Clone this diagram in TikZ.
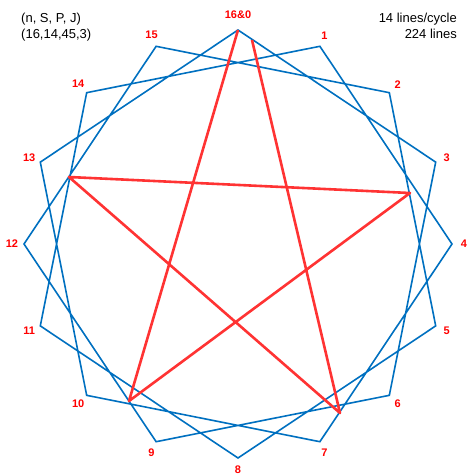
\documentclass[tikz,border=0pt]{standalone}
\usepackage{xcolor}
\usepackage{fontspec}
\setmainfont{Liberation Sans}
\usepackage{tikz}

\definecolor{starblue}{RGB}{0,112,192}
\definecolor{pentred}{RGB}{255,51,51}

\tikzset{
  ptlabel/.style={text=red, font=\bfseries\fontsize{11}{13}\selectfont, inner sep=0pt},
  infotext/.style={font=\fontsize{13}{16}\selectfont, inner sep=0pt},
  starline/.style={draw=starblue, line width=1.6pt},
  pentline/.style={draw=pentred, line width=2.6pt, line join=round}
}

\begin{document}
\begin{tikzpicture}[x=1pt,y=-1pt]
\useasboundingbox (0,0) rectangle (474,475);
% points of the 16-gon and their numbers
\foreach \i in {0,...,15} {
  \coordinate (p\i) at ({238+214*sin(22.5*\i)},{244-214*cos(22.5*\i)});
}
\node[ptlabel] (l0) at (238,15) {16\&0};
\foreach \i in {1,...,15} {
  \node[ptlabel] (l\i) at ({238+226*sin(22.5*\i)},{244-226*cos(22.5*\i)}) {\i};
}
% star, step 3
\draw[starline] (p0) -- (p3) -- (p6) -- (p9) -- (p12) -- (p15) -- (p2) -- (p5)
  -- (p8) -- (p11) -- (p14) -- (p1) -- (p4) -- (p7) -- (p10) -- (p13) -- cycle;
% red path
\coordinate (r1) at (252,40);
\coordinate (r2) at (340,413);
\coordinate (r3) at (69,177);
\coordinate (r4) at (410,193);
\coordinate (r5) at (129,401);
\draw[pentline] (r1) -- (r2) -- (r3) -- (r4) -- (r5) -- (p0);
% text in the corners
\node[infotext, anchor=base west] (params) at (21,22.5) {(n, S, P, J)};
\node[infotext, anchor=base west] (paramvals) at (21,38.5) {(16,14,45,3)};
\node[infotext, anchor=base east] (percycle) at (457,22.5) {14 lines/cycle};
\node[infotext, anchor=base east] (total) at (457,38.5) {224 lines};
\end{tikzpicture}
\end{document}
